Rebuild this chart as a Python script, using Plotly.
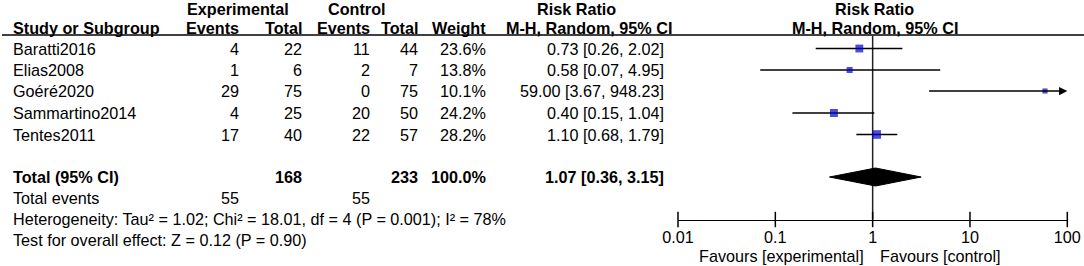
import math
import plotly.graph_objects as go

# ---------------- data ----------------
studies = ["Baratti2016", "Elias2008", "Goéré2020", "Sammartino2014", "Tentes2011"]
exp_events = [4, 1, 29, 4, 17]
exp_total = [22, 6, 75, 25, 40]
ctrl_events = [11, 2, 0, 20, 22]
ctrl_total = [44, 7, 75, 50, 57]
weights = [23.6, 13.8, 10.1, 24.2, 28.2]
rr = [0.73, 0.58, 59.00, 0.40, 1.10]
rr_lo = [0.26, 0.07, 3.67, 0.15, 0.68]
rr_hi = [2.02, 4.95, 948.23, 1.04, 1.79]

total_exp = 168
total_ctrl = 233
total_weight = 100.0
total_rr = 1.07
total_lo = 0.36
total_hi = 3.15
events_exp_sum = 55
events_ctrl_sum = 55

heterogeneity = "Heterogeneity: Tau² = 1.02; Chi² = 18.01, df = 4 (P = 0.001); I² = 78%"
overall = "Test for overall effect: Z = 0.12 (P = 0.90)"

tick_vals = [0.01, 0.1, 1, 10, 100]
tick_text = ["0.01", "0.1", "1", "10", "100"]

# ---------------- layout constants (pixels) ----------------
W, H = 1084, 266
FONT = "Liberation Sans, Arial, sans-serif"
FS = 16.2
row_y = [48.5, 70, 91, 113, 134.5]
y_total = 177
y_events = 198
y_het = 219
y_test = 240
y_head1 = 9
y_head2 = 28
y_rule = 35
axis_y = 219.5
x_lo_px, x_hi_px = 678, 1067.3
AX_MIN, AX_MAX = 0.01, 100

col_study = 13
col_exp_ev = 239
col_exp_tot = 302
col_ctl_ev = 370
col_ctl_tot = 418
col_weight = 486
col_ci = 664

BLUE = "#0000CC"

fig = go.Figure()

annotations = []


def txt(x, y, s, anchor="right", bold=False, size=FS):
    annotations.append(dict(
        x=x, y=y, xref="x", yref="y", text=f"<b>{s}</b>" if bold else s,
        showarrow=False, xanchor=anchor, yanchor="middle",
        font=dict(family=FONT, size=size, color="black"),
        borderpad=0, borderwidth=0,
    ))


# headers
txt(237.5, y_head1, "Experimental", "center", True)
txt(357, y_head1, "Control", "center", True)
txt(576, y_head1, "Risk Ratio", "center", True)
txt(874, y_head1, "Risk Ratio", "center", True)
txt(col_study, y_head2, "Study or Subgroup", "left", True)
txt(col_exp_ev, y_head2, "Events", "right", True)
txt(col_exp_tot, y_head2, "Total", "right", True)
txt(col_ctl_ev, y_head2, "Events", "right", True)
txt(col_ctl_tot, y_head2, "Total", "right", True)
txt(col_weight, y_head2, "Weight", "right", True)
txt(672, y_head2, "M-H, Random, 95% CI", "right", True)
txt(875, y_head2, "M-H, Random, 95% CI", "center", True)

# study rows
for i, s in enumerate(studies):
    y = row_y[i]
    txt(col_study, y, s, "left")
    txt(col_exp_ev, y, str(exp_events[i]))
    txt(col_exp_tot, y, str(exp_total[i]))
    txt(col_ctl_ev, y, str(ctrl_events[i]))
    txt(col_ctl_tot, y, str(ctrl_total[i]))
    txt(col_weight, y, f"{weights[i]:.1f}%")
    txt(col_ci, y, f"{rr[i]:.2f} [{rr_lo[i]:.2f}, {rr_hi[i]:.2f}]")

# total rows
txt(col_study, y_total, "Total (95% CI)", "left", True)
txt(col_exp_tot, y_total, str(total_exp), "right", True)
txt(col_ctl_tot, y_total, str(total_ctrl), "right", True)
txt(col_weight, y_total, f"{total_weight:.1f}%", "right", True)
txt(col_ci, y_total, f"{total_rr:.2f} [{total_lo:.2f}, {total_hi:.2f}]", "right", True)
txt(col_study, y_events, "Total events", "left")
txt(col_exp_ev, y_events, str(events_exp_sum))
txt(col_ctl_ev, y_events, str(events_ctrl_sum))
txt(col_study, y_het, heterogeneity, "left")
txt(col_study, y_test, overall, "left")

# favours labels
txt(864, 256, "Favours [experimental]", "right")
txt(880, 256, "Favours [control]", "left")

# ---------------- forest plot marks (log axis x2) ----------------
common = dict(xaxis="x2", yaxis="y", hoverinfo="skip", showlegend=False)

# line of no effect
fig.add_trace(go.Scatter(x=[1, 1], y=[y_rule + 1, axis_y], mode="lines",
                         line=dict(color="#222222", width=1.5), **common))

# CI lines (arrow when the interval runs past the axis)
for i in range(len(studies)):
    lo = max(rr_lo[i], AX_MIN)
    if rr_hi[i] > AX_MAX:
        annotations.append(dict(
            x=math.log10(AX_MAX), y=row_y[i], xref="x2", yref="y",
            ax=math.log10(lo), ay=row_y[i], axref="x2", ayref="y",
            showarrow=True, arrowhead=2, arrowsize=1.1, arrowwidth=1.5,
            arrowcolor="black", text="", standoff=0, startstandoff=0))
    else:
        fig.add_trace(go.Scatter(x=[lo, rr_hi[i]], y=[row_y[i], row_y[i]],
                                 mode="lines", line=dict(color="black", width=1.5),
                                 cliponaxis=False, **common))

# study squares (size scales with weight)
fig.add_trace(go.Scatter(
    x=rr, y=row_y, mode="markers",
    marker=dict(symbol="square", color=BLUE,
                size=[1.62 * (w ** 0.5) for w in weights],
                line=dict(width=0)),
    cliponaxis=False, **common))

# pooled diamond
fig.add_trace(go.Scatter(
    x=[total_lo, total_rr, total_hi, total_rr, total_lo],
    y=[y_total, y_total - 9, y_total, y_total + 9, y_total],
    mode="lines", fill="toself", fillcolor="black",
    line=dict(color="black", width=1), **common))

# axis ticks (crossing the axis line)
fig.add_trace(go.Scatter(
    x=tick_vals, y=[axis_y] * len(tick_vals), mode="markers",
    marker=dict(symbol="line-ns", size=11, line=dict(color="black", width=1.5)),
    cliponaxis=False, **common))

fig.update_layout(
    width=W, height=H,
    margin=dict(l=0, r=0, t=0, b=0, autoexpand=False),
    paper_bgcolor="white", plot_bgcolor="rgba(0,0,0,0)",
    font=dict(family=FONT, size=FS, color="black"),
    annotations=annotations,
    shapes=[dict(type="line", xref="x", yref="y", x0=2, x1=W, y0=y_rule, y1=y_rule,
                 line=dict(color="black", width=1.5))],
    xaxis=dict(range=[0, W], domain=[0, 1], visible=False, anchor="y",
               automargin=False),
    xaxis2=dict(type="log", range=[-2, 2],
                domain=[x_lo_px / W, x_hi_px / W],
                anchor="free", position=(H - axis_y) / H, side="bottom",
                showgrid=False, zeroline=False, showline=True,
                linecolor="black", linewidth=1.5,
                tickmode="array", tickvals=tick_vals, ticktext=tick_text,
                ticks="", ticklabelstandoff=3, automargin=False,
                tickfont=dict(family=FONT, size=FS, color="black")),
    yaxis=dict(range=[H, 0], domain=[0, 1], visible=False, anchor="x",
               automargin=False),
    showlegend=False,
)

fig.write_html("out.html",
               config={"displayModeBar": False, "staticPlot": True},
               post_script="document.body.style.margin='0';"
                           "document.body.style.overflow='hidden';")
